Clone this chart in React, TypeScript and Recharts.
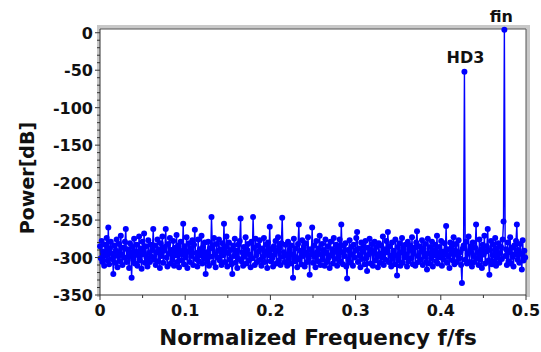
import { LineChart, Line, XAxis, YAxis, ReferenceLine, ReferenceDot, Label } from 'recharts';

// FFT bins, f = k / 1024 (only first half shown, up to fs/2)
const BINS_PER_FS = 1024;

const POWER_DB = [
    -285, -301, -278, -306, -292, -311, -283, -297, -274, -304, -260, -309, -288, -279, -302, -295,
    -322, -284, -307, -291, -276, -313, -298, -282, -305, -271, -296, -310, -287, -300, -279, -262,
    -306, -289, -299, -314, -281, -293, -327, -286, -303, -275, -308, -292, -283, -311, -297, -272,
    -304, -288, -315, -279, -296, -268, -307, -285, -301, -312, -277, -294, -306, -283, -299, -290,
    -262, -303, -284, -310, -293, -276, -305, -289, -314, -281, -298, -272, -307, -291, -286, -262,
    -300, -312, -282, -295, -274, -308, -290, -303, -278, -311, -287, -297, -270, -306, -284, -313,
    -291, -279, -304, -296, -255, -309, -285, -300, -273, -314, -292, -281, -306, -288, -298, -277,
    -310, -283, -263, -302, -294, -312, -276, -305, -289, -297, -271, -308, -286, -301, -280, -322,
    -293, -305, -279, -311, -288, -299, -246, -284, -307, -274, -296, -313, -282, -300, -291, -276,
    -304, -289, -310, -281, -297, -255, -306, -286, -272, -312, -294, -280, -303, -290, -309, -322,
    -284, -298, -275, -307, -291, -314, -283, -302, -278, -248, -305, -293, -311, -286, -299, -273,
    -308, -290, -282, -304, -296, -313, -279, -301, -246, -287, -310, -275, -297, -306, -284, -292,
    -277, -303, -311, -288, -299, -274, -306, -292, -283, -314, -280, -297, -259, -305, -289, -301,
    -312, -285, -296, -278, -308, -291, -273, -304, -287, -310, -281, -247, -299, -293, -306, -283,
    -297, -311, -279, -302, -290, -308, -284, -296, -327, -275, -305, -288, -300, -313, -282, -256,
    -303, -291, -309, -277, -298, -286, -312, -281, -294, -306, -273, -301, -323, -289, -296, -260,
    -307, -284, -299, -313, -278, -293, -305, -288, -271, -310, -296, -282, -303, -290, -311, -276,
    -294, -306, -285, -300, -314, -279, -297, -289, -308, -274, -302, -292, -283, -311, -287, -299,
    -276, -305, -256, -293, -309, -284, -298, -281, -312, -328, -290, -303, -277, -307, -286, -296,
    -311, -283, -300, -291, -274, -266, -306, -288, -297, -313, -280, -302, -292, -285, -309, -278,
    -301, -318, -287, -296, -275, -308, -290, -282, -311, -294, -279, -304, -286, -299, -313, -281,
    -295, -307, -284, -300, -272, -310, -289, -303, -278, -293, -266, -306, -285, -298, -312, -280,
    -302, -291, -309, -276, -297, -324, -286, -304, -281, -311, -293, -274, -307, -288, -300, -283,
    -296, -312, -279, -305, -290, -284, -301, -273, -309, -294, -287, -311, -280, -265, -298, -306,
    -285, -303, -292, -277, -310, -288, -299, -282, -306, -316, -275, -294, -308, -286, -301, -279,
    -312, -290, -297, -283, -305, -271, -308, -294, -286, -300, -278, -311, -292, -303, -281, -296,
    -258, -307, -289, -299, -314, -280, -295, -285, -304, -273, -309, -291, -282, -306, -297, -277,
    -301, -293, -310, -334, -288, -284, -52, -303, -279, -308, -295, -272, -306, -290, -285, -312,
    -280, -298, -306, -287, -256, -301, -293, -310, -276, -303, -289, -314, -283, -296, -271, -308,
    -292, -285, -262, -304, -323, -290, -278, -309, -297, -283, -305, -274, -311, -288, -300, -281,
    -307, -294, -286, -302, -276, -252, 4, -298, -289, -310, -280, -305, -293, -273, -308, -287,
    -299, -312, -284, -296, -278, -256, -303, -290, -307, -282, -295, -316, -277, -304, -291, -300,
];

const X_TICKS = [0, 0.05, 0.1, 0.15, 0.2, 0.25, 0.3, 0.35, 0.4, 0.45, 0.5];
const X_LABELS = [0, 0.1, 0.2, 0.3, 0.4, 0.5];
const Y_TICKS = [
    0, -10, -20, -30, -40, -50, -60, -70, -80, -90, -100, -110, -120, -130, -140, -150, -160, -170,
    -180, -190, -200, -210, -220, -230, -240, -250, -260, -270, -280, -290, -300, -310, -320, -330, -340, -350,
];
const Y_LABELS = [0, -50, -100, -150, -200, -250, -300, -350];

const MARKERS = [
    { bin: 438, name: 'HD3', dx: 1, dy: -9 },
    { bin: 486, name: 'fin', dx: -3, dy: -8 },
];

const data = POWER_DB.map((p, k) => ({ f: k / BINS_PER_FS, p }));

const FONT = '"DejaVu Sans", Verdana, sans-serif';
const BLUE = '#0000ff';

const YTick = ({ x, y, payload }: any) => {
    const major = Y_LABELS.includes(payload.value);
    const ax = x + 5;
    return (
        <g>
            <line x1={ax} x2={ax - (major ? 5 : 3)} y1={y} y2={y} stroke="#333" />
            {major && (
                <text x={x - 2} y={y + 6} textAnchor="end" fontFamily={FONT} fontWeight="bold" fontSize={16} fill="#111">
                    {payload.value}
                </text>
            )}
        </g>
    );
};

const XTick = ({ x, y, payload }: any) => {
    const major = X_LABELS.includes(payload.value);
    const ay = y - 5;
    return (
        <g>
            <line x1={x} x2={x} y1={ay} y2={ay + (major ? 5 : 3)} stroke="#333" />
            {major && (
                <text x={x} y={ay + 21} textAnchor="middle" fontFamily={FONT} fontWeight="bold" fontSize={16} fill="#111">
                    {payload.value}
                </text>
            )}
        </g>
    );
};

const markerLabel = (text: string, dx: number, dy: number) => (props: any) => {
    const vb = props.viewBox || {};
    const cx = (vb.x || 0) + (vb.width || 0) / 2;
    const cy = (vb.y || 0) + (vb.height || 0) / 2;
    return (
        <text x={cx + dx} y={cy + dy} textAnchor="middle" fontFamily={FONT} fontWeight="bold" fontSize={16} fill="#111">
            {text}
        </text>
    );
};

export default function App() {
    return (
        <div style={{ position: 'absolute', left: 0, top: 0, width: 541, height: 352, background: '#fff' }}>
            {/* grey frame shadow round the plot box */}
            <div style={{ position: 'absolute', left: 97, top: 25, width: 433, height: 4, background: '#c8c8c8' }} />
            <div style={{ position: 'absolute', left: 97, top: 25, width: 3, height: 272, background: '#c8c8c8' }} />
            <div style={{ position: 'absolute', left: 526, top: 25, width: 4, height: 272, background: '#c8c8c8' }} />
            <div style={{ position: 'absolute', left: 0, top: 0 }}>
                <LineChart width={541} height={352} data={data} margin={{ top: 29, right: 15, bottom: 27, left: 30 }}>
                    <XAxis
                        type="number"
                        dataKey="f"
                        domain={[0, 0.5]}
                        ticks={X_TICKS}
                        interval={0}
                        height={30}
                        tickSize={4}
                        tickMargin={1}
                        tickLine={false}
                        tick={<XTick />}
                        axisLine={{ stroke: '#333' }}
                    >
                        <Label
                            content={() => (
                                <text x={318} y={345} textAnchor="middle" fontFamily={FONT} fontWeight="bold" fontSize={21.5} fill="#111">
                                    Normalized Frequency f/fs
                                </text>
                            )}
                        />
                    </XAxis>
                    <YAxis
                        type="number"
                        domain={[-350, 5]}
                        ticks={Y_TICKS}
                        interval={0}
                        width={70}
                        tickSize={4}
                        tickMargin={1}
                        tickLine={false}
                        tick={<YTick />}
                        axisLine={{ stroke: '#333' }}
                    >
                        <Label
                            content={() => (
                                <text
                                    x={27}
                                    y={178}
                                    transform="rotate(-90 27 178)"
                                    textAnchor="middle"
                                    dominantBaseline="central"
                                    fontFamily={FONT}
                                    fontWeight="bold"
                                    fontSize={19}
                                    fill="#111"
                                >
                                    Power[dB]
                                </text>
                            )}
                        />
                    </YAxis>
                    <ReferenceLine y={5} stroke="#555" />
                    <ReferenceLine x={0.5} stroke="#555" />
                    <Line
                        type="linear"
                        dataKey="p"
                        stroke={BLUE}
                        strokeWidth={1.4}
                        dot={{ r: 3, fill: BLUE, stroke: 'none' }}
                        isAnimationActive={false}
                    />
                    {MARKERS.map(m => (
                        <ReferenceDot
                            key={m.name}
                            x={m.bin / BINS_PER_FS}
                            y={POWER_DB[m.bin]}
                            r={0}
                            fill="none"
                            stroke="none"
                            label={markerLabel(m.name, m.dx, m.dy)}
                        />
                    ))}
                </LineChart>
            </div>
        </div>
    );
}
